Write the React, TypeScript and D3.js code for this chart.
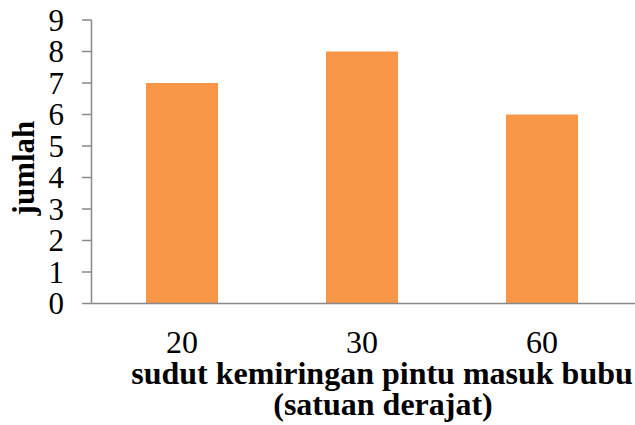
import React from "react";
import * as d3 from "d3";

const categories = ["20", "30", "60"];
const values = [7, 8, 6];
const yTicks = [0, 1, 2, 3, 4, 5, 6, 7, 8, 9];
const xTitle1 = "sudut kemiringan pintu masuk bubu";
const xTitle2 = "(satuan derajat)";
const yTitle = "jumlah";

export default function App() {
  const W = 635, H = 425;
  const axisX = 91.5;
  const x = d3.scaleBand<string>().domain(categories).range([92, 632]).paddingInner(0.6).paddingOuter(0.3);
  const y = d3.scaleLinear().domain([0, 9]).range([303.5, 20]);
  const font = "Liberation Serif";
  const axisColor = "#898989";
  const txt = (size: number, bold = false) => ({ fontFamily: font, fontSize: size, fontWeight: bold ? "bold" : "normal" } as React.CSSProperties);
  return (
    <svg width={W} height={H} style={{ position: "absolute", left: 0, top: 0 }}>
      <rect width={W} height={H} fill="#fff" />
      {categories.map((c, i) => (
        <rect key={c} x={x(c)} y={y(values[i])} width={x.bandwidth()} height={y(0) - y(values[i])} fill="#F79646" />
      ))}
      <line x1={axisX} x2={axisX} y1={y(9)} y2={y(0)} stroke={axisColor} strokeWidth={1.5} />
      <line x1={axisX} x2={635} y1={y(0)} y2={y(0)} stroke={axisColor} strokeWidth={1.5} />
      {yTicks.map((t) => (
        <g key={t}>
          <line x1={82} x2={axisX} y1={y(t)} y2={y(t)} stroke={axisColor} strokeWidth={1.5} />
          <text x={64} y={y(t)} dy="0.34em" textAnchor="end" style={txt(31)} fill="#000">{t}</text>
        </g>
      ))}
      {categories.map((c) => (
        <text key={c} x={(x(c) as number) + x.bandwidth() / 2} y={353} textAnchor="middle" style={txt(32)} fill="#000">{c}</text>
      ))}
      <text x={382} y={384} textAnchor="middle" style={txt(32, true)} fill="#000">{xTitle1}</text>
      <text x={383} y={415} textAnchor="middle" style={txt(32, true)} fill="#000">{xTitle2}</text>
      <text transform={`translate(34,168) rotate(-90)`} textAnchor="middle" style={txt(31, true)} fill="#000">{yTitle}</text>
    </svg>
  );
}
